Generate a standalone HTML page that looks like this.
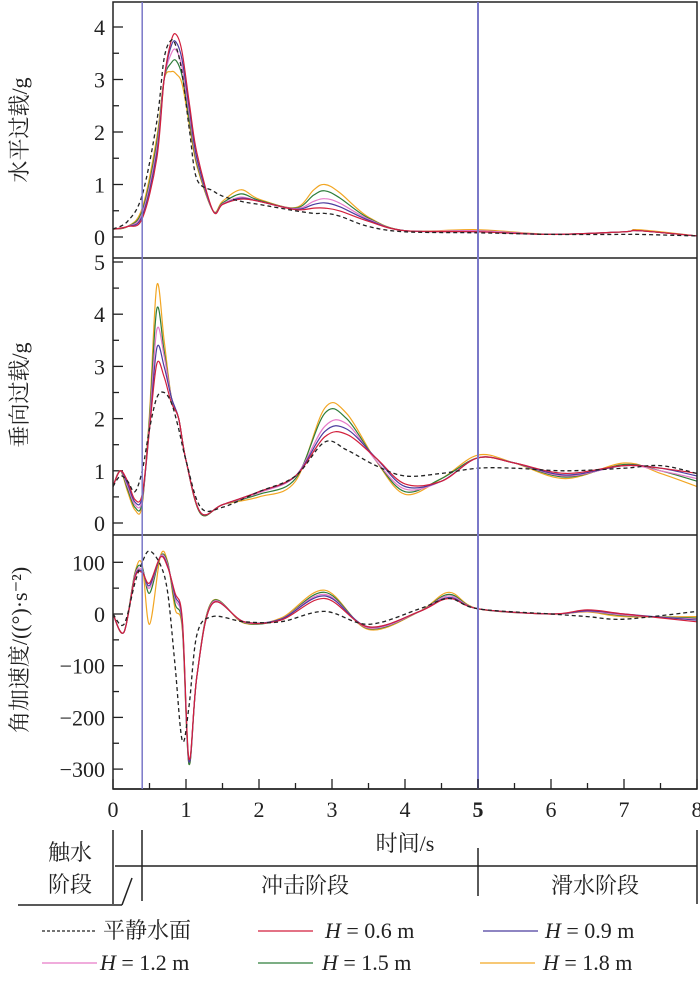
<!DOCTYPE html>
<html><head><meta charset="utf-8">
<style>
body{margin:0;background:#fff;}
svg{display:block;font-family:"Liberation Serif","Noto Serif CJK SC",serif;}
.cn{font-family:"Liberation Serif","Noto Serif CJK SC","Noto Sans CJK SC",serif;}
</style></head>
<body>
<svg id="c" width="700" height="981" viewBox="0 0 700 981">
</svg>
<script>
// ---- data ----
const xTicks = [0,1,2,3,4,5,6,7,8];
const seriesNames = ["平静水面","H=0.6 m","H=0.9 m","H=1.2 m","H=1.5 m","H=1.8 m"];

// Panel 1: horizontal overload (g)
const t1 = [0,0.2,0.4,0.6,0.7,0.8,0.87,0.95,1.05,1.15,1.37,1.5,1.75,2.0,2.5,2.75,2.9,3.1,3.5,4.0,5.0,6.0,7.0,7.2,8.0];
const h1Calm = [0.15,0.3,0.8,2.2,3.4,3.75,3.6,3.1,2.0,1.1,0.88,0.78,0.68,0.62,0.5,0.45,0.45,0.4,0.2,0.1,0.08,0.05,0.05,0.05,0.02];
const h1H06 = [0.15,0.2,0.35,1.5,3.0,3.75,3.85,3.5,2.5,1.6,0.5,0.62,0.72,0.68,0.52,0.55,0.55,0.5,0.3,0.12,0.1,0.05,0.1,0.12,0.02];
const h1H09 = [0.15,0.2,0.4,1.6,3.0,3.65,3.7,3.35,2.4,1.5,0.5,0.62,0.74,0.68,0.53,0.62,0.65,0.58,0.32,0.12,0.1,0.05,0.1,0.12,0.02];
const h1H12 = [0.15,0.2,0.45,1.7,3.0,3.5,3.55,3.2,2.3,1.45,0.5,0.63,0.76,0.68,0.54,0.68,0.73,0.65,0.34,0.12,0.12,0.05,0.1,0.12,0.02];
const h1H15 = [0.15,0.2,0.5,1.8,3.0,3.32,3.35,3.05,2.2,1.4,0.5,0.65,0.82,0.7,0.55,0.8,0.88,0.75,0.36,0.12,0.12,0.05,0.1,0.12,0.02];
const h1H18 = [0.15,0.2,0.55,1.9,3.0,3.15,3.1,2.9,2.1,1.35,0.5,0.68,0.9,0.72,0.56,0.9,1.0,0.85,0.38,0.12,0.14,0.05,0.1,0.14,0.02];

// Panel 2: vertical overload (g)
const t2 = [0,0.1,0.2,0.3,0.4,0.5,0.6,0.7,0.8,0.9,1.0,1.2,1.5,2.0,2.5,2.9,3.2,3.6,4.0,4.5,5.0,5.5,6.2,7.0,7.5,8.0];
const v2Calm = [0.7,0.9,0.8,0.6,1.0,1.8,2.4,2.5,2.3,1.8,1.2,0.3,0.3,0.6,0.9,1.55,1.4,1.1,0.9,0.95,1.05,1.05,1.0,1.05,1.1,0.95];
const v2H06 = [0.7,1.0,0.8,0.45,0.55,1.8,3.05,2.8,2.3,2.0,1.2,0.2,0.35,0.6,0.9,1.65,1.7,1.25,0.75,0.8,1.25,1.15,0.95,1.1,1.05,0.95];
const v2H09 = [0.7,1.0,0.75,0.4,0.5,1.8,3.35,3.0,2.4,2.0,1.2,0.2,0.35,0.6,0.9,1.75,1.8,1.25,0.7,0.8,1.25,1.15,0.92,1.1,1.05,0.9];
const v2H12 = [0.7,1.0,0.7,0.35,0.45,1.9,3.7,3.2,2.4,2.0,1.2,0.2,0.35,0.58,0.9,1.85,1.9,1.2,0.65,0.8,1.25,1.15,0.9,1.1,1.0,0.85];
const v2H15 = [0.7,1.0,0.65,0.3,0.4,2.0,4.1,3.3,2.4,2.0,1.2,0.18,0.35,0.55,0.85,2.1,2.0,1.2,0.6,0.85,1.25,1.15,0.88,1.12,1.0,0.8];
const v2H18 = [0.7,1.0,0.6,0.25,0.35,2.1,4.55,3.5,2.4,2.0,1.2,0.18,0.35,0.5,0.8,2.2,2.1,1.2,0.55,0.85,1.3,1.15,0.85,1.15,0.95,0.7];

// Panel 3: angular acceleration (deg/s^2)
const t3 = [0,0.15,0.3,0.4,0.5,0.65,0.75,0.85,0.95,1.04,1.15,1.36,1.8,2.3,2.9,3.5,4.2,4.6,5.0,6.0,6.5,7.0,8.0];
const a3Calm = [0,-20,60,100,122,95,40,-100,-245,-180,-40,-5,-15,-15,5,-20,10,30,10,0,-5,-10,5];
const a3H06 = [0,-35,70,80,60,110,90,40,-10,-280,-120,20,-15,-12,30,-25,5,30,10,0,8,0,-15];
const a3H09 = [0,-35,72,82,55,110,92,35,-15,-285,-120,20,-15,-10,35,-25,5,32,10,0,6,0,-12];
const a3H12 = [0,-35,75,85,50,112,95,30,-20,-285,-120,22,-16,-10,38,-27,5,35,10,0,5,-2,-10];
const a3H15 = [0,-35,78,90,40,112,98,20,-25,-290,-120,24,-17,-10,42,-28,5,38,10,0,5,-3,-8];
const a3H18 = [0,-35,80,95,-20,112,100,10,-30,-290,-120,25,-18,-8,46,-30,5,42,10,0,4,-5,-5];

// ---- rendering ----
const NS="http://www.w3.org/2000/svg";
const svg=document.getElementById('c');
function el(tag,attrs,parent){const e=document.createElementNS(NS,tag);for(const k in attrs)e.setAttribute(k,attrs[k]);(parent||svg).appendChild(e);return e;}
const X0=113,X1=697;
const xs=t=>X0+(X1-X0)*t/8;
const colors=["#222","#d21f3c","#4b3c9e","#e67ac8","#2e7d3a","#f2a623"];
const panels=[
 {top:2,bot:258,y0:237,ppu:52.5,ticks:[0,1,2,3,4],minor:0.5,t:t1,s:[h1Calm,h1H06,h1H09,h1H12,h1H15,h1H18],label:"水平过载/g",ly:130,name:"horizontal-overload"},
 {top:258,bot:535,y0:523,ppu:52.2,ticks:[0,1,2,3,4,5],minor:0.5,t:t2,s:[v2Calm,v2H06,v2H09,v2H12,v2H15,v2H18],label:"垂向过载/g",ly:395,name:"vertical-overload"},
 {top:535,bot:789,y0:614,ppu:0.517,ticks:[100,0,-100,-200,-300],minor:50,t:t3,s:[a3Calm,a3H06,a3H09,a3H12,a3H15,a3H18],label:"角加速度/((°)·s⁻²)",ly:650,name:"angular-acceleration"}
];
function smooth(pts){let d="M"+pts[0][0].toFixed(1)+","+pts[0][1].toFixed(1);
 for(let i=0;i<pts.length-1;i++){const p0=pts[Math.max(i-1,0)],p1=pts[i],p2=pts[i+1],p3=pts[Math.min(i+2,pts.length-1)];
  const c1=[p1[0]+(p2[0]-p0[0])/6,p1[1]+(p2[1]-p0[1])/6],c2=[p2[0]-(p3[0]-p1[0])/6,p2[1]-(p3[1]-p1[1])/6];
  d+="C"+c1.map(v=>v.toFixed(1))+" "+c2.map(v=>v.toFixed(1))+" "+p2[0].toFixed(1)+","+p2[1].toFixed(1);}
 return d;}
const defs=el('defs',{});
panels.forEach((p,pi)=>{
 const ys=v=>p.y0-v*p.ppu;
 const cp=el('clipPath',{id:'cp'+pi},defs);el('rect',{x:X0,y:p.top,width:X1-X0,height:p.bot-p.top},cp);
 const g=el('g',{});
 
 
 const mn=Math.min(...p.ticks),mx=Math.max(...p.ticks);
 for(let v=mn;v<=mx+p.minor*1.5;v+=p.minor){const y=ys(v);if(y<p.top+2||y>p.bot-2)continue;
  const major=Math.abs(v/ (p.minor*2)-Math.round(v/(p.minor*2)))<1e-6;
  el('line',{x1:X0,x2:X0+(major?10:6),y1:y,y2:y,stroke:'#222','stroke-width':1.3},g);}
 p.ticks.forEach(v=>{const t=el('text',{x:X0-8,y:ys(v)+8,'text-anchor':'end','font-size':22,fill:'#222'},g);
  
  t.textContent=v<0?'−'+(-v):String(v);});
 const lab=el('text',{x:0,y:0,transform:`translate(27,${p.ly}) rotate(-90)`,'text-anchor':'middle','font-size':22,fill:'#222',class:'cn'},g);
 
 lab.textContent=p.label;
 const order=[5,4,3,2,1,0];
 order.forEach(si=>{const pts=p.t.map((t,i)=>[xs(t),ys(p.s[si][i])]);
  const path=el('path',{d:smooth(pts),fill:'none',stroke:colors[si],'stroke-width':si==0?1.3:1.2,'stroke-dasharray':si==0?'4,3':'none','clip-path':`url(#cp${pi})`},g);
  
  });
 el('line',{x1:X0,x2:X1,y1:p.bot,y2:p.bot,stroke:'#222','stroke-width':1.5},g);
});
el('rect',{x:X0,y:2,width:X1-X0,height:787,fill:'none',stroke:'#222','stroke-width':1.5});
el('line',{x1:xs(0.4),x2:xs(0.4),y1:2,y2:789,stroke:'#7a78c8','stroke-width':1.5});
el('line',{x1:xs(5),x2:xs(5),y1:2,y2:789,stroke:'#7a78c8','stroke-width':2});
for(let v=0;v<=8;v+=0.5){const x=xs(v);const major=v%1==0;el('line',{x1:x,x2:x,y1:789,y2:789-(major?10:6),stroke:'#222','stroke-width':1.3});}
xTicks.forEach(v=>{const t=el('text',{x:xs(v),y:817,'text-anchor':'middle','font-size':22,fill:'#222','font-weight':v==5?'bold':'normal'});
 t.textContent=v;});
const xt=el('text',{x:405,y:851,'text-anchor':'middle','font-size':22,fill:'#222',class:'cn'});
xt.textContent='时间/s';
const sg=el('g',{stroke:'#222','stroke-width':1.5});

el('line',{x1:113,x2:113,y1:830,y2:904},sg);
el('line',{x1:142,x2:142,y1:830,y2:901},sg);
el('line',{x1:478,x2:478,y1:848,y2:896},sg);
el('line',{x1:697,x2:697,y1:830,y2:904},sg);
el('line',{x1:115,x2:697,y1:866,y2:866},sg);
el('line',{x1:18,x2:122,y1:905,y2:905},sg);
el('line',{x1:122,x2:132,y1:905,y2:878},sg);
[['触水',70,860],['阶段',70,892],['冲击阶段',305,893],['滑水阶段',595,893]].forEach(a=>{
 const t=el('text',{x:a[1],y:a[2],'text-anchor':'middle','font-size':22,fill:'#222',class:'cn'});
 t.textContent=a[0];});
const leg=[[42,938,0,'平静水面',103],[258,938,1,'0.6',325],[483,938,2,'0.9',545],[42,970,3,'1.2',100],[258,970,4,'1.5',322],[480,970,5,'1.8',543]];
leg.forEach(l=>{const g=el('g',{});
 
 el('line',{x1:l[0],x2:l[0]+55,y1:l[1]-7,y2:l[1]-7,stroke:colors[l[2]],'stroke-width':1.3,'stroke-dasharray':l[2]==0?'3,2':'none'},g);
 const t=el('text',{x:l[4],y:l[1],'font-size':22,fill:'#222',class:'cn'},g);
 if(l[2]==0)t.textContent=l[3];else t.innerHTML='<tspan font-style="italic">H</tspan> = '+l[3]+' m';});
</script>
</body></html>
